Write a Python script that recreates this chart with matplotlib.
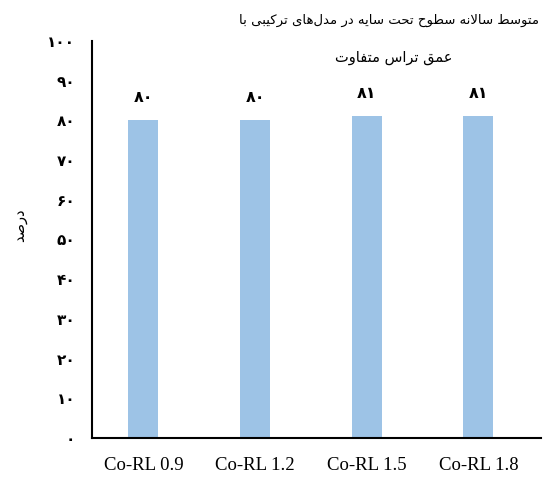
import matplotlib
matplotlib.use("Agg")
import matplotlib.pyplot as plt

# chart data
categories = ["Co-RL 0.9", "Co-RL 1.2", "Co-RL 1.5", "Co-RL 1.8"]
values = [80, 80, 81, 81]
yticks = [0, 10, 20, 30, 40, 50, 60, 70, 80, 90, 100]
title_1 = "متوسط سالانه سطوح تحت سایه در مدل\u200cهای ترکیبی با"
title_2 = "عمق تراس متفاوت"
ylabel = "درصد"

# Arabic presentation forms: (isolated, final, initial, medial)
FORMS = {
    "ا": (0xFE8D, 0xFE8E, None, None),
    "ب": (0xFE8F, 0xFE90, 0xFE91, 0xFE92),
    "ت": (0xFE95, 0xFE96, 0xFE97, 0xFE98),
    "ح": (0xFEA1, 0xFEA2, 0xFEA3, 0xFEA4),
    "د": (0xFEA9, 0xFEAA, None, None),
    "ر": (0xFEAD, 0xFEAE, None, None),
    "س": (0xFEB1, 0xFEB2, 0xFEB3, 0xFEB4),
    "ص": (0xFEB9, 0xFEBA, 0xFEBB, 0xFEBC),
    "ط": (0xFEC1, 0xFEC2, 0xFEC3, 0xFEC4),
    "ع": (0xFEC9, 0xFECA, 0xFECB, 0xFECC),
    "ف": (0xFED1, 0xFED2, 0xFED3, 0xFED4),
    "ق": (0xFED5, 0xFED6, 0xFED7, 0xFED8),
    "ل": (0xFEDD, 0xFEDE, 0xFEDF, 0xFEE0),
    "م": (0xFEE1, 0xFEE2, 0xFEE3, 0xFEE4),
    "ن": (0xFEE5, 0xFEE6, 0xFEE7, 0xFEE8),
    "ه": (0xFEE9, 0xFEEA, 0xFEEB, 0xFEEC),
    "و": (0xFEED, 0xFEEE, None, None),
    "ک": (0xFB8E, 0xFB8F, 0xFB90, 0xFB91),
    "ی": (0xFBFC, 0xFBFD, 0xFBFE, 0xFBFF),
}
LAM_ALEF = (0xFEFB, 0xFEFC)


def _dual(ch):
    return ch in FORMS and FORMS[ch][2] is not None


def shape(text):
    """Join Persian letters and reverse them for left-to-right drawing."""
    chars = list(text)
    out = []
    i = 0
    while i < len(chars):
        ch = chars[i]
        if ch not in FORMS:
            out.append(ch)
            i += 1
            continue
        prev = chars[i - 1] if i > 0 else ""
        joins_prev = _dual(prev)
        if ch == "ل" and i + 1 < len(chars) and chars[i + 1] == "ا":
            out.append(chr(LAM_ALEF[1] if joins_prev else LAM_ALEF[0]))
            i += 2
            continue
        nxt = chars[i + 1] if i + 1 < len(chars) else ""
        joins_next = _dual(ch) and nxt in FORMS
        iso, fin, ini, med = FORMS[ch]
        if joins_prev and joins_next:
            form = med
        elif joins_prev:
            form = fin
        elif joins_next:
            form = ini
        else:
            form = iso
        out.append(chr(form))
        i += 1
    out = [c for c in out if c != "\u200c"]
    return "".join(reversed(out))


def fa_digits(n):
    return str(n).translate(str.maketrans("0123456789", "۰۱۲۳۴۵۶۷۸۹"))


fig = plt.figure(figsize=(5.52, 4.8), dpi=100)
ax = fig.add_axes([0.1667, 0.0875, 0.8133, 0.8271])

x = range(len(categories))
ax.bar(x, values, width=0.27, color="#9DC3E6")
for xi, v in zip(x, values):
    ax.text(xi, v + 3.8, fa_digits(v), ha="center", va="bottom",
            fontsize=11.5, fontweight="bold", family="DejaVu Sans")

ax.set_xlim(-0.46, 3.56)
ax.set_ylim(0, 100)
ax.set_yticks(yticks)
ax.set_yticklabels([fa_digits(t) for t in yticks], fontsize=11,
                   fontweight="bold")
ax.set_xticks(list(x))
ax.set_xticklabels(categories, family="Liberation Serif", fontsize=13.5)
ax.tick_params(axis="both", length=0)
ax.tick_params(axis="y", pad=12)
ax.tick_params(axis="x", pad=14)

for side in ("top", "right"):
    ax.spines[side].set_visible(False)
for side in ("left", "bottom"):
    ax.spines[side].set_linewidth(1.5)
    ax.spines[side].set_color("black")

fig.text(0.035, 0.53, shape(ylabel), rotation=90, ha="center", va="center",
         fontsize=10.5)
fig.text(0.705, 0.958, shape(title_1), ha="center", va="center", fontsize=9.5)
fig.text(0.714, 0.881, shape(title_2), ha="center", va="center",
         fontsize=10.5)

fig.savefig("out.png", dpi=100)
